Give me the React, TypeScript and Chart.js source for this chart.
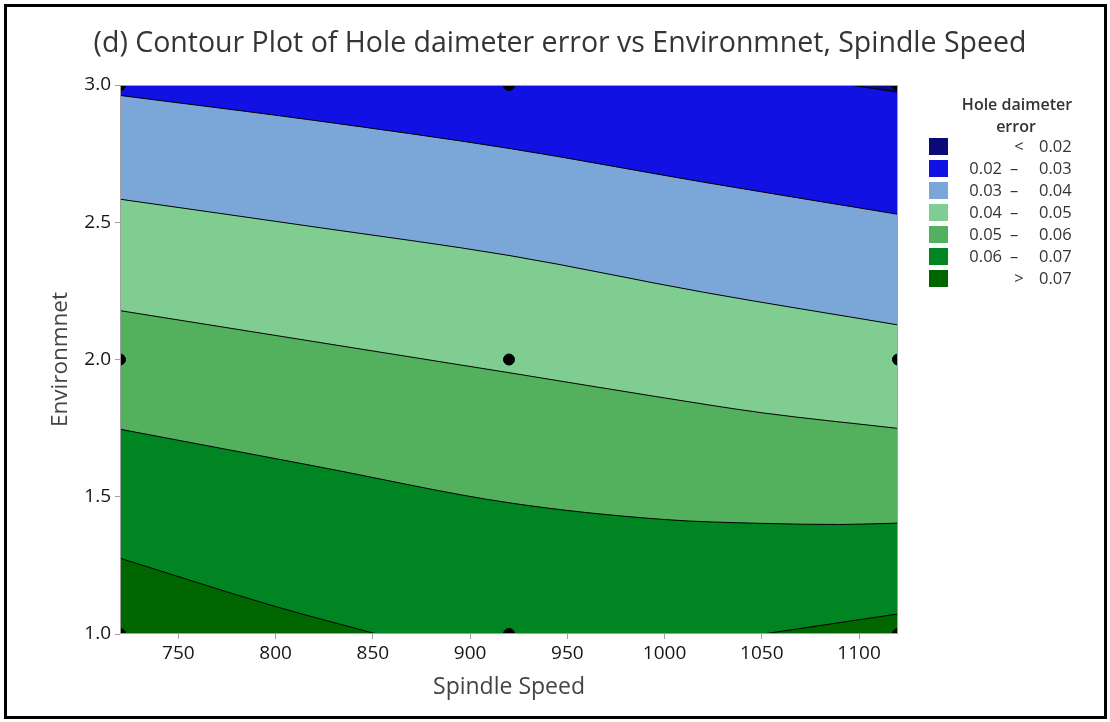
import { useEffect, useRef } from "react";
import { Chart, registerables } from "chart.js";

Chart.register(...registerables);

const chartTitle = "(d) Contour Plot of Hole daimeter error vs Environmnet, Spindle Speed";
const xAxisTitle = "Spindle Speed";
const yAxisTitle = "Environmnet";
const legendHeading = ["Hole daimeter", "error"];

const speedRange = [720, 1120];
const envRange = [1.0, 3.0];
const speedTicks = [750, 800, 850, 900, 950, 1000, 1050, 1100];
const envTicks = [1.0, 1.5, 2.0, 2.5, 3.0];

// Contour boundaries as [spindle speed, environment] pairs
const level002 = [[1095, 3.0], [1120, 2.974]];
const level003 = [[720, 2.962], [820, 2.871], [920, 2.769], [1020, 2.646], [1120, 2.529]];
const level004 = [[720, 2.584], [820, 2.483], [920, 2.379], [1020, 2.245], [1120, 2.126]];
const level005 = [[720, 2.178], [820, 2.065], [920, 1.952], [1000, 1.86], [1050, 1.806], [1120, 1.749]];
const level006 = [[720, 1.746], [820, 1.612], [920, 1.478], [1000, 1.417], [1050, 1.403], [1090, 1.399], [1120, 1.404]];
const level007Left = [[720, 1.276], [800, 1.1], [852, 1.0]];
const level007Right = [[1050.6, 1.0], [1120, 1.073]];

// Design points
const designSpeed = [720, 720, 720, 920, 920, 920, 1120, 1120, 1120];
const designEnv = [1, 2, 3, 1, 2, 3, 1, 2, 3];

// Legend bands
const bandLower = ["", "0.02", "0.03", "0.04", "0.05", "0.06", ""];
const bandUpper = ["0.02", "0.03", "0.04", "0.05", "0.06", "0.07", "0.07"];
const bandSign = ["<", "–", "–", "–", "–", "–", ">"];

const bandColors = [
  "rgb(10,10,120)",
  "rgb(17,17,228)",
  "rgb(123,167,216)",
  "rgb(128,205,145)",
  "rgb(83,176,92)",
  "rgb(0,133,34)",
  "rgb(0,102,0)",
];

const FONT = '"Open Sans", "Noto Sans", sans-serif';

const toPoints = (pairs: number[][]) => pairs.map(([x, y]) => ({ x, y }));

const boundary = (pairs: number[][], color: string, fill: string, order: number) => ({
  type: "line" as const,
  data: toPoints(pairs),
  borderColor: "#000",
  borderWidth: 1,
  backgroundColor: color,
  fill,
  pointRadius: 0,
  pointHoverRadius: 0,
  cubicInterpolationMode: "monotone" as const,
  order,
  clip: 0,
});

const decorPlugin = {
  id: "contourDecor",
  beforeDatasetsDraw(chart: any) {
    const { ctx, chartArea: a } = chart;
    ctx.save();
    ctx.fillStyle = bandColors[1];
    ctx.fillRect(a.left, a.top, a.right - a.left, a.bottom - a.top);
    ctx.restore();
  },
  afterDatasetsDraw(chart: any) {
    const { ctx, chartArea: a } = chart;
    ctx.save();
    ctx.strokeStyle = "#a0a0a0";
    ctx.lineWidth = 1;
    ctx.strokeRect(Math.round(a.left) + 0.5, Math.round(a.top) + 0.5, Math.round(a.right - a.left) - 1, Math.round(a.bottom - a.top) - 1);
    ctx.restore();
  },
  afterDraw(chart: any) {
    const { ctx, chartArea: a } = chart;
    ctx.save();
    // Main title
    ctx.fillStyle = "#353535";
    ctx.font = `28.5px ${FONT}`;
    ctx.textAlign = "center";
    ctx.textBaseline = "alphabetic";
    ctx.fillText(chartTitle, 560, 52);

    // Axis titles
    ctx.fillStyle = "#444";
    ctx.font = `23px ${FONT}`;
    ctx.fillText(xAxisTitle, (a.left + a.right) / 2, 694);
    ctx.save();
    ctx.translate(67, (a.top + a.bottom) / 2);
    ctx.rotate(-Math.PI / 2);
    ctx.font = `22.5px ${FONT}`;
    ctx.fillText(yAxisTitle, 0, 0);
    ctx.restore();

    // Legend
    const lx = a.right + 31;
    ctx.fillStyle = "#333";
    ctx.font = `600 16px ${FONT}`;
    ctx.textBaseline = "middle";
    ctx.fillText(legendHeading[0], lx + 88, 105);
    ctx.fillText(legendHeading[1], lx + 87, 127);
    ctx.font = `16.5px ${FONT}`;
    for (let i = 0; i < bandColors.length; i++) {
      const top = 138 + 22 * i;
      ctx.fillStyle = bandColors[i];
      ctx.fillRect(lx, top, 19, 17);
      ctx.fillStyle = "#333";
      const ty = top + 9.5;
      if (bandLower[i]) {
        ctx.textAlign = "right";
        ctx.fillText(bandLower[i], lx + 73, ty);
        ctx.textAlign = "center";
        ctx.fillText(bandSign[i], lx + 85, ty);
      } else {
        ctx.textAlign = "center";
        ctx.fillText(bandSign[i], lx + 90, ty);
      }
      ctx.textAlign = "left";
      ctx.fillText(bandUpper[i], lx + 110, ty);
    }
    ctx.restore();
  },
};

export default function App() {
  const canvasRef = useRef<HTMLCanvasElement>(null);

  useEffect(() => {
    const canvas = canvasRef.current;
    if (!canvas) return;

    const chart = new Chart(canvas, {
      type: "line",
      data: {
        datasets: [
          {
            type: "scatter" as const,
            data: designSpeed.map((x, i) => ({ x, y: designEnv[i] })),
            backgroundColor: "#000",
            borderColor: "#000",
            pointRadius: 5.5,
            pointHoverRadius: 5.5,
            showLine: false,
            order: 0,
            clip: 0,
          } as any,
          boundary(level002, bandColors[0], "end", 2),
          boundary(level007Right, bandColors[6], "start", 3),
          boundary(level007Left, bandColors[6], "start", 3),
          boundary(level006, bandColors[5], "start", 4),
          boundary(level005, bandColors[4], "start", 5),
          boundary(level004, bandColors[3], "start", 6),
          boundary(level003, bandColors[2], "start", 7),
        ],
      },
      options: {
        responsive: false,
        animation: false,
        events: [],
        devicePixelRatio: 1,
        layout: { padding: { top: 85, left: 0, right: 212, bottom: 0 } },
        plugins: {
          legend: { display: false },
          title: { display: false },
          tooltip: { enabled: false },
        },
        scales: {
          x: {
            type: "linear",
            min: speedRange[0],
            max: speedRange[1],
            afterFit: (s: any) => {
              s.height = 88;
            },
            afterBuildTicks: (s: any) => {
              s.ticks = speedTicks.map((value) => ({ value }));
            },
            border: { display: false },
            grid: { drawOnChartArea: false, drawTicks: true, tickLength: 5, color: "#a0a0a0" },
            ticks: {
              color: "#151515",
              padding: 3,
              font: { family: FONT, size: 19 },
              callback: (v: any) => String(v),
            },
          },
          y: {
            type: "linear",
            min: envRange[0],
            max: envRange[1],
            afterFit: (s: any) => {
              s.width = 120;
            },
            afterBuildTicks: (s: any) => {
              s.ticks = envTicks.map((value) => ({ value }));
            },
            border: { display: false },
            grid: { drawOnChartArea: false, drawTicks: true, tickLength: 5, color: "#a0a0a0" },
            ticks: {
              color: "#151515",
              padding: 4,
              font: { family: FONT, size: 19 },
              callback: (v: any) => Number(v).toFixed(1),
            },
          },
        },
      },
      plugins: [decorPlugin],
    } as any);

    return () => chart.destroy();
  }, []);

  return (
    <div style={{ position: "fixed", left: 0, top: 0, width: 1110, height: 722, background: "#fff" }}>
      <canvas ref={canvasRef} width={1110} height={722} style={{ width: 1110, height: 722, display: "block" }} />
      <div
        style={{
          position: "absolute",
          left: 4,
          top: 4,
          width: 1103,
          height: 715,
          border: "3px solid #000",
          boxSizing: "border-box",
          pointerEvents: "none",
        }}
      />
    </div>
  );
}
